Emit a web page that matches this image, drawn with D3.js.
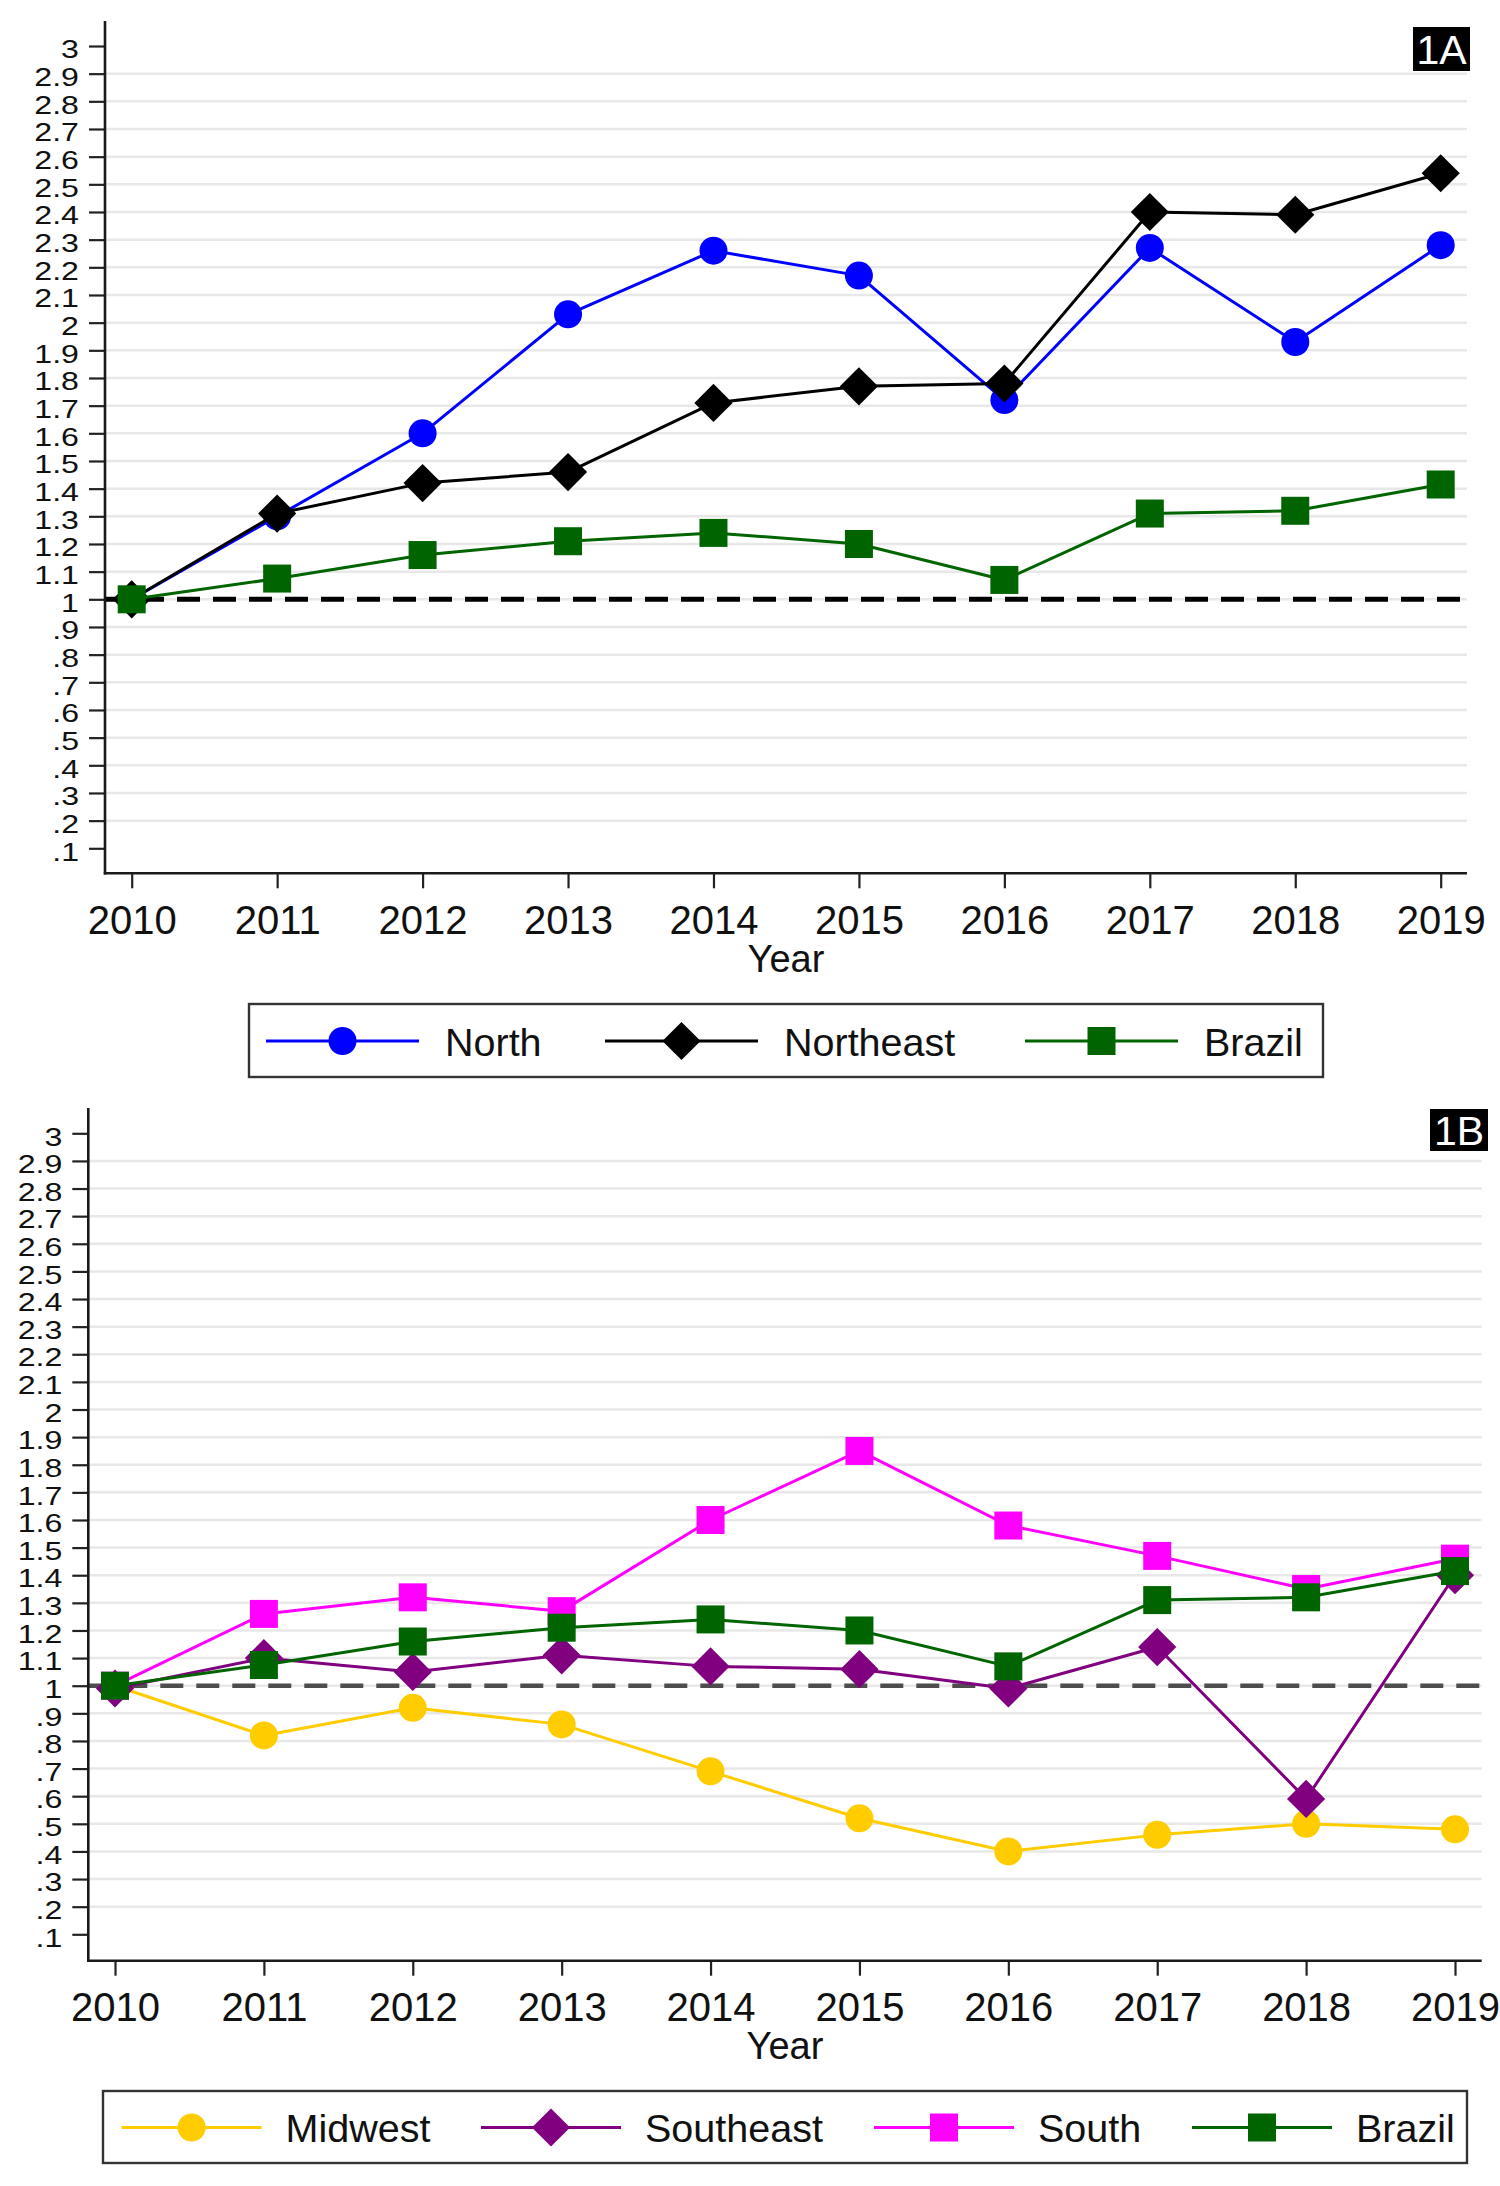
<!DOCTYPE html>
<html>
<head>
<meta charset="utf-8">
<script src="https://cdn.jsdelivr.net/npm/d3@7"></script>
<style>
  body { margin: 0; background: #fff; }
  text { font-family: "Liberation Sans", Arial, Helvetica, sans-serif; }
</style>
</head>
<body>
<div id="chart"></div>
<script>
// data
const years = [2010, 2011, 2012, 2013, 2014, 2015, 2016, 2017, 2018, 2019];
const yTickValues = [0.1, 0.2, 0.3, 0.4, 0.5, 0.6, 0.7, 0.8, 0.9, 1.0,
                     1.1, 1.2, 1.3, 1.4, 1.5, 1.6, 1.7, 1.8, 1.9, 2.0,
                     2.1, 2.2, 2.3, 2.4, 2.5, 2.6, 2.7, 2.8, 2.9, 3.0];
const refValue = 1;

const north     = [1.00, 1.30, 1.60, 2.03, 2.26, 2.17, 1.72, 2.27, 1.93, 2.28];
const northeast = [1.00, 1.31, 1.42, 1.46, 1.71, 1.77, 1.78, 2.40, 2.39, 2.54];
const brazil    = [1.00, 1.075, 1.16, 1.21, 1.24, 1.20, 1.07, 1.31, 1.32, 1.415];
const midwest   = [1.00, 0.82, 0.92, 0.86, 0.69, 0.52, 0.40, 0.46, 0.50, 0.48];
const southeast = [0.99, 1.10, 1.05, 1.11, 1.07, 1.06, 0.99, 1.14, 0.59, 1.40];
const south     = [1.00, 1.26, 1.32, 1.27, 1.60, 1.85, 1.58, 1.47, 1.35, 1.46];

const W = 1500, H = 2186;

const panels = [
  {
    label: "1A",
    series: [
      { name: "North", values: north, color: "#0000ff", symbol: "circle" },
      { name: "Northeast", values: northeast, color: "#000000", symbol: "diamond" },
      { name: "Brazil", values: brazil, color: "#006400", symbol: "square" }
    ],
    frame: { left: 105, right: 1467, top: 21, bottom: 873.3 },
    xRange: [131.7, 1440.7],
    yRange: [848.3, 46],
    refColor: "#000000", refWidth: 5,
    labelBox: { x: 1413, y: 27, w: 57, h: 44 },
    yearBaseline: 971.7,
    legend: { left: 249, right: 1323, top: 1004, bottom: 1077, cy: 1041,
              starts: [266, 605, 1025], lineLen: 153, textGap: 26 }
  },
  {
    label: "1B",
    series: [
      { name: "Midwest", values: midwest, color: "#ffcc00", symbol: "circle" },
      { name: "Southeast", values: southeast, color: "#800080", symbol: "diamond" },
      { name: "South", values: south, color: "#ff00ff", symbol: "square" },
      { name: "Brazil", values: brazil, color: "#006400", symbol: "square" }
    ],
    frame: { left: 88.3, right: 1481.7, top: 1108, bottom: 1960.7 },
    xRange: [115, 1455],
    yRange: [1934.3, 1133.3],
    refColor: "#4d4d4d", refWidth: 4.5,
    labelBox: { x: 1430, y: 1109, w: 58, h: 42 },
    yearBaseline: 2059,
    legend: { left: 103, right: 1467, top: 2091, bottom: 2163, cy: 2127.5,
              starts: [121.6, 481, 874, 1192], lineLen: 140, textGap: 24 }
  }
];

const fmtY = d => {
  const r = Math.round(d * 10) / 10;
  return Number.isInteger(r) ? String(r) : r.toFixed(1).replace(/^0/, "");
};

const symbolPath = {
  circle: d3.symbol().type(d3.symbolCircle).size(Math.PI * 14 * 14)(),
  square: d3.symbol().type(d3.symbolSquare).size(28 * 28)(),
  diamond: d3.symbol().type(d3.symbolSquare).size(27 * 27)()
};

function addMarker(g, type, color, x, y) {
  g.append("path")
    .attr("d", symbolPath[type])
    .attr("fill", color)
    .attr("transform", `translate(${x},${y})` + (type === "diamond" ? " rotate(45)" : ""));
}

const svg = d3.select("#chart").append("svg")
  .attr("width", W)
  .attr("height", H)
  .attr("viewBox", [0, 0, W, H]);

svg.append("rect").attr("width", W).attr("height", H).attr("fill", "#fff");

panels.forEach(p => {
  const f = p.frame;
  const x = d3.scaleLinear().domain([years[0], years[years.length - 1]]).range(p.xRange);
  const y = d3.scaleLinear().domain([0.1, 3]).range(p.yRange);
  const g = svg.append("g");

  // grid lines (Stata leaves the outer ticks without grid)
  g.append("g")
    .selectAll("line")
    .data(yTickValues.slice(1, -1))
    .join("line")
    .attr("x1", f.left).attr("x2", f.right)
    .attr("y1", d => y(d)).attr("y2", d => y(d))
    .attr("stroke", "#e8e8e8")
    .attr("stroke-width", 2.5);

  // reference line at 1
  g.append("line")
    .attr("x1", f.left).attr("x2", f.right)
    .attr("y1", y(refValue)).attr("y2", y(refValue))
    .attr("stroke", p.refColor)
    .attr("stroke-width", p.refWidth)
    .attr("stroke-dasharray", "23,13");

  // y axis
  const yAxis = g.append("g")
    .attr("transform", `translate(${f.left},0)`)
    .call(d3.axisLeft(y).tickValues(yTickValues).tickFormat(fmtY).tickSize(16).tickSizeOuter(0));
  yAxis.select(".domain").remove();
  yAxis.selectAll(".tick line").attr("stroke", "#222").attr("stroke-width", 2.2);
  yAxis.selectAll(".tick text")
    .attr("fill", "#111")
    .style("font-size", "25.5px")
    .attr("x", -26 / 1.26)
    .attr("dy", "0.46em")
    .attr("transform", "scale(1.26,1)");

  // x axis
  const xAxis = g.append("g")
    .attr("transform", `translate(0,${f.bottom})`)
    .call(d3.axisBottom(x).tickValues(years).tickFormat(d3.format("d")).tickSize(15).tickSizeOuter(0));
  xAxis.select(".domain").remove();
  xAxis.selectAll(".tick line").attr("stroke", "#222").attr("stroke-width", 2.2);
  xAxis.selectAll(".tick text")
    .attr("fill", "#111")
    .style("font-size", "40px")
    .attr("y", 60.5)
    .attr("dy", null);

  // axis lines
  g.append("line")
    .attr("x1", f.left).attr("x2", f.left)
    .attr("y1", f.top).attr("y2", f.bottom + 1.2)
    .attr("stroke", "#1a1a1a").attr("stroke-width", 2.6);
  g.append("line")
    .attr("x1", f.left - 1.2).attr("x2", f.right)
    .attr("y1", f.bottom).attr("y2", f.bottom)
    .attr("stroke", "#1a1a1a").attr("stroke-width", 2.6);

  g.append("text")
    .attr("x", (f.left + f.right) / 2)
    .attr("y", p.yearBaseline)
    .attr("text-anchor", "middle")
    .attr("fill", "#111")
    .style("font-size", "38px")
    .text("Year");

  // series
  const line = d3.line().x((d, i) => x(years[i])).y(d => y(d));
  p.series.forEach(s => {
    const sg = g.append("g");
    sg.append("path")
      .datum(s.values)
      .attr("d", line)
      .attr("fill", "none")
      .attr("stroke", s.color)
      .attr("stroke-width", 3)
      .attr("stroke-linejoin", "round");
    s.values.forEach((v, i) => addMarker(sg, s.symbol, s.color, x(years[i]), y(v)));
  });

  // panel tag
  const lb = p.labelBox;
  g.append("rect")
    .attr("x", lb.x).attr("y", lb.y).attr("width", lb.w).attr("height", lb.h)
    .attr("fill", "#000");
  g.append("text")
    .attr("x", lb.x + lb.w / 2)
    .attr("y", lb.y + lb.h / 2 + 15)
    .attr("text-anchor", "middle")
    .attr("fill", "#fff")
    .style("font-size", "41px")
    .text(p.label);

  // legend
  const L = p.legend;
  const lg = g.append("g");
  lg.append("rect")
    .attr("x", L.left).attr("y", L.top)
    .attr("width", L.right - L.left).attr("height", L.bottom - L.top)
    .attr("fill", "#fff")
    .attr("stroke", "#333")
    .attr("stroke-width", 2.4);
  p.series.forEach((s, i) => {
    const x0 = L.starts[i];
    lg.append("line")
      .attr("x1", x0).attr("x2", x0 + L.lineLen)
      .attr("y1", L.cy).attr("y2", L.cy)
      .attr("stroke", s.color).attr("stroke-width", 3);
    addMarker(lg, s.symbol, s.color, x0 + L.lineLen / 2, L.cy);
    lg.append("text")
      .attr("x", x0 + L.lineLen + L.textGap)
      .attr("y", L.cy + 14.5)
      .attr("fill", "#111")
      .style("font-size", "39.5px")
      .text(s.name);
  });
});
</script>
</body>
</html>
